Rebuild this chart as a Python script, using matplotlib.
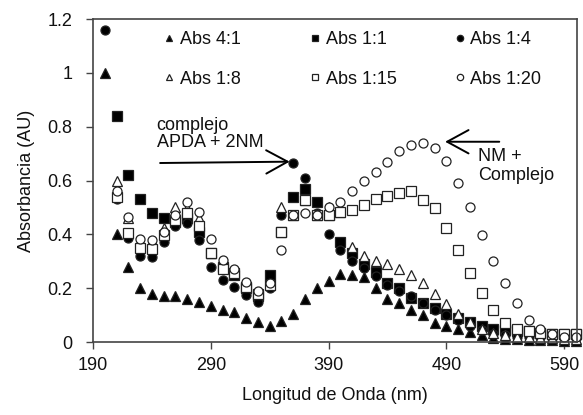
import numpy as np
import matplotlib
matplotlib.use("Agg")
import matplotlib.pyplot as plt

plt.rcParams['font.family'] = ['Liberation Sans', 'DejaVu Sans']

nan = np.nan
wavelength = list(range(200, 610, 10))

abs_4_1 = [1.00, 0.40, 0.28, 0.20, 0.18, 0.17, 0.17, 0.16, 0.15, 0.135,
           0.12, 0.11, 0.09, 0.073, 0.061, 0.078, 0.103, 0.16, 0.20, 0.228,
           0.253, 0.25, 0.243, 0.20, 0.16, 0.144, 0.119, 0.10, 0.072, 0.06,
           0.048, 0.037, 0.026, 0.016, 0.013, 0.01, 0.008, 0.007, 0.006, 0.005,
           0.005]
abs_1_1 = [nan, 0.84, 0.62, 0.53, 0.48, 0.46, 0.445, 0.46, 0.41, 0.33,
           0.28, 0.25, 0.20, 0.17, 0.25, 0.41, 0.54, 0.57, 0.52, 0.47,
           0.37, 0.33, 0.29, 0.26, 0.22, 0.20, 0.165, 0.145, 0.125, 0.105,
           0.09, 0.075, 0.06, 0.05, 0.045, 0.04, 0.04, 0.035, 0.03, 0.03,
           0.03]
abs_1_4 = [1.16, 0.53, 0.385, 0.32, 0.317, 0.373, 0.43, 0.443, 0.379, 0.28,
           0.23, 0.205, 0.175, 0.15, 0.20, 0.472, 0.664, 0.61, 0.48, 0.40,
           0.342, 0.30, 0.275, 0.245, 0.21, 0.19, 0.17, 0.145, 0.12, 0.10,
           0.08, 0.06, 0.045, 0.03, 0.025, 0.02, 0.02, 0.02, 0.015, 0.015,
           0.015]
abs_1_8 = [nan, 0.60, 0.46, 0.375, 0.375, 0.422, 0.50, 0.497, 0.459, 0.33,
           0.28, 0.255, 0.205, 0.18, 0.21, 0.503, 0.472, 0.527, 0.472, 0.50,
           0.482, 0.354, 0.32, 0.30, 0.29, 0.27, 0.249, 0.218, 0.178, 0.142,
           0.104, 0.075, 0.05, 0.035, 0.025, 0.02, 0.02, 0.015, 0.015, 0.01,
           0.01]
abs_1_15 = [nan, 0.54, 0.404, 0.348, 0.344, 0.397, 0.453, 0.478, 0.431, 0.33,
            0.27, 0.255, 0.205, 0.18, 0.21, 0.41, 0.472, 0.527, 0.472, 0.47,
            0.482, 0.49, 0.509, 0.53, 0.542, 0.552, 0.562, 0.527, 0.499, 0.422,
            0.34, 0.257, 0.183, 0.119, 0.072, 0.05, 0.04, 0.035, 0.03, 0.03,
            0.03]
abs_1_20 = [nan, 0.562, 0.465, 0.381, 0.379, 0.41, 0.472, 0.521, 0.484, 0.381,
            0.305, 0.27, 0.224, 0.19, 0.22, 0.342, 0.472, 0.48, 0.472, 0.50,
            0.521, 0.562, 0.599, 0.63, 0.67, 0.711, 0.732, 0.738, 0.72, 0.672,
            0.592, 0.50, 0.397, 0.30, 0.22, 0.144, 0.082, 0.05, 0.03, 0.02,
            0.02]

series = [
    ("Abs 4:1", abs_4_1, '^', 'black'),
    ("Abs 1:1", abs_1_1, 's', 'black'),
    ("Abs 1:4", abs_1_4, 'o', 'black'),
    ("Abs 1:8", abs_1_8, '^', 'white'),
    ("Abs 1:15", abs_1_15, 's', 'white'),
    ("Abs 1:20", abs_1_20, 'o', 'white'),
]

fs = 13
fig = plt.figure(figsize=(5.83, 4.15), dpi=100)
ax = fig.add_axes([0.1595, 0.1759, 0.8302, 0.7783])

handles = []
for name, vals, mk, fc in series:
    h, = ax.plot(wavelength, vals, linestyle='none', marker=mk, markersize=6.5,
                 markerfacecolor=fc, markeredgecolor='#222222',
                 markeredgewidth=0.9, label=name, clip_on=False)
    handles.append(h)

ax.set_xlim(190, 601)
ax.set_ylim(0, 1.2)
ax.set_xticks([190, 290, 390, 490, 590])
ax.set_yticks([0, 0.2, 0.4, 0.6, 0.8, 1.0, 1.2])
ax.set_yticklabels(["0", "0.2", "0.4", "0.6", "0.8", "1", "1.2"])
ax.tick_params(direction='out', length=5, width=1, colors='#444444',
               labelcolor='#111111', labelsize=fs)
ax.tick_params(axis='y', pad=10)
ax.tick_params(axis='x', pad=6)
for s in ax.spines.values():
    s.set_color('#444444')
    s.set_linewidth(1.2)

ax.set_xlabel("Longitud de Onda (nm)", fontsize=fs, labelpad=9, color='#111111')
ax.set_ylabel("Absorbancia (AU)", fontsize=fs, labelpad=9, color='#111111')

# legend: three columns placed by hand
col_x = [0.281, 0.531, 0.779]
for i, cx in enumerate(col_x):
    fig.legend([handles[i], handles[i + 3]],
               [series[i][0], series[i + 3][0]],
               loc='center left', bbox_to_anchor=(cx, 0.857),
               frameon=False, fontsize=fs, markerscale=0.7,
               handlelength=0.6, handletextpad=0.3, labelspacing=1.25,
               borderpad=0, borderaxespad=0, labelcolor='#111111')

ax.annotate('', xy=(357, 0.67), xytext=(247, 0.665),
            arrowprops=dict(arrowstyle='->,head_length=0.55,head_width=0.3',
                            lw=1.4, color='black', mutation_scale=28,
                            shrinkA=0, shrinkB=0))
ax.text(244, 0.771, "complejo\nAPDA + 2NM", fontsize=fs, ha='left',
        va='center', linespacing=1.0, color='#111111')

ax.annotate('', xy=(489, 0.744), xytext=(535, 0.744),
            arrowprops=dict(arrowstyle='->,head_length=0.55,head_width=0.3',
                            lw=1.4, color='black', mutation_scale=28,
                            shrinkA=0, shrinkB=0))
ax.text(517, 0.654, "NM +\nComplejo", fontsize=fs, ha='left', va='center',
        linespacing=1.1, color='#111111')

fig.savefig("out.png", dpi=100)
